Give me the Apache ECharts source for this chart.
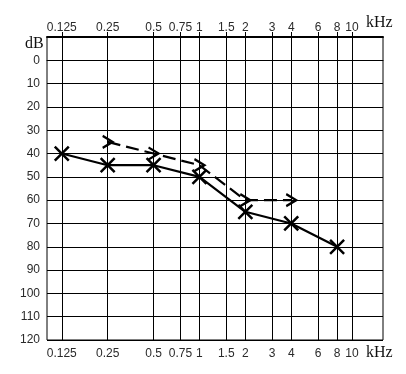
<!DOCTYPE html>
<html>
<head>
<meta charset="utf-8">
<script src="https://cdn.jsdelivr.net/npm/echarts@6/dist/echarts.min.js"></script>
<style>html,body{margin:0;padding:0;background:#fff}#c{width:406px;height:374px}</style>
</head>
<body>
<div id="c"></div>
<script>
// Frequency tick labels (kHz)
const freqTicks = [0.125, 0.25, 0.5, 0.75, 1, 1.5, 2, 3, 4, 6, 8, 10];
const freqTickLabels = ['0.125', '0.25', '0.5', '0.75', '1', '1.5', '2', '3', '4', '6', '8', '10'];
// dB tick values
const dbTicks = [0, 10, 20, 30, 40, 50, 60, 70, 80, 90, 100, 110, 120];
// Air conduction (X)
const airFreqs = [0.125, 0.25, 0.5, 1, 2, 4, 8];
const airDb = [40, 45, 45, 50, 65, 70, 80];
// Bone conduction (>)
const boneFreqs = [0.25, 0.5, 1, 2, 4];
const boneDb = [35, 40, 45, 60, 60];

const lg = Math.log2;
const tickPos = freqTicks.map(lg);
function fmtFreq(v) {
  let best = 0, bd = Infinity;
  tickPos.forEach((p, i) => { const d = Math.abs(p - v); if (d < bd) { bd = d; best = i; } });
  return freqTickLabels[best];
}
const labelFont = { fontFamily: 'Liberation Sans, Arial, sans-serif', fontSize: 12, color: '#2a2a2a' };
const nameFont = { fontFamily: 'Liberation Serif, Times New Roman, serif', fontSize: 16, fill: '#111' };

const chart = echarts.init(document.getElementById('c'), null, { renderer: 'canvas' });
const xBase = {
  type: 'value',
  min: lg(0.1),
  max: 4,
  axisLine: { show: true, lineStyle: { color: '#000', width: 1 } },
  axisTick: { show: true, inside: false, length: 4, customValues: tickPos, lineStyle: { color: '#000' } },
  axisLabel: Object.assign({ customValues: tickPos, formatter: fmtFreq, margin: 8 }, labelFont),
  splitLine: { show: false }
};
chart.setOption({
  animation: false,
  backgroundColor: '#fff',
  grid: { left: 47, right: 23, top: 37, bottom: 34, show: true, borderColor: '#000', borderWidth: 1, backgroundColor: '#fff' },
  graphic: [
    { type: 'text', left: 366, top: 15, style: Object.assign({ text: 'kHz' }, nameFont) },
    { type: 'text', left: 366, top: 345, style: Object.assign({ text: 'kHz' }, nameFont) },
    { type: 'text', left: 25, top: 36, style: Object.assign({ text: 'dB' }, nameFont) }
  ],
  xAxis: [
    Object.assign({}, xBase, {
      position: 'bottom',
      splitLine: { show: true, lineStyle: { color: '#000', width: 1 } }
    }),
    Object.assign({}, xBase, {
      position: 'top',
      axisLine: { show: true, lineStyle: { color: '#000', width: 2 } },
      axisTick: { show: true, inside: false, length: 5, customValues: tickPos, lineStyle: { color: '#000' } },
      axisLabel: Object.assign({ customValues: tickPos, formatter: fmtFreq, margin: 3 }, labelFont)
    })
  ],
  yAxis: {
    type: 'value',
    inverse: true,
    min: -10,
    max: 120,
    interval: 10,
    axisLine: { show: true, lineStyle: { color: '#000', width: 1 } },
    axisTick: { show: true, inside: false, length: 7, customValues: dbTicks, lineStyle: { color: '#000' } },
    axisLabel: Object.assign({ customValues: dbTicks, margin: 7 }, labelFont),
    splitLine: { show: true, lineStyle: { color: '#000', width: 1 } }
  },
  series: [
    {
      type: 'line',
      xAxisIndex: 0,
      data: airFreqs.map((f, i) => [lg(f), airDb[i]]),
      symbol: 'path://M0,0L10,10M10,0L0,10',
      symbolSize: 14,
      itemStyle: { color: 'transparent', borderColor: '#000', borderWidth: 2.5 },
      lineStyle: { color: '#000', width: 2.2 },
      z: 3
    },
    {
      type: 'line',
      xAxisIndex: 0,
      data: boneFreqs.map((f, i) => [lg(f), boneDb[i]]),
      symbol: 'path://M0,0L8,5L0,10',
      symbolSize: [10, 12],
      itemStyle: { color: 'transparent', borderColor: '#000', borderWidth: 2.2 },
      lineStyle: { color: '#000', width: 2.2, type: [13, 6] },
      z: 3
    }
  ]
});
</script>
</body>
</html>
